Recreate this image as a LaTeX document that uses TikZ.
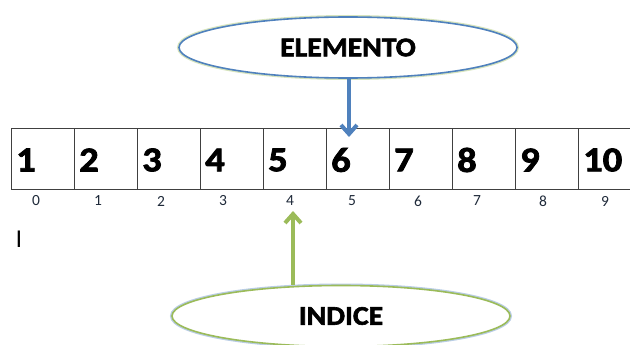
\documentclass[tikz,border=0pt]{standalone}
\usepackage{fontspec}
\setmainfont{Carlito}[BoldFeatures={FakeBold=2.2,FakeStretch=1.1}]
\newfontfamily\cursorfont{Liberation Sans}
\usetikzlibrary{shapes.geometric,arrows.meta}
\definecolor{accblue}{HTML}{4F81BD}
\definecolor{accgreen}{HTML}{9BBB59}
\definecolor{glowgreen}{HTML}{D7E4BD}
\definecolor{glowblue}{HTML}{B9CDE5}
\definecolor{idxcol}{HTML}{1F2A3A}
\tikzset{
  cellbox/.style={draw=black!75, line width=0.8pt, minimum width=63pt, minimum height=61pt, inner sep=0pt, outer sep=0pt},
  cellnum/.style={font=\bfseries\fontsize{35}{35}\selectfont, anchor=west, inner sep=0pt},
  idx/.style={font=\fontsize{15.5}{15.5}\selectfont, text=idxcol, inner sep=0pt},
  bubble/.style={ellipse, fill=white, minimum width=338pt, minimum height=61pt, inner sep=0pt, line width=1.6pt,
    font=\bfseries\fontsize{27}{27}\selectfont},
  bigarrow/.style={line width=4pt, -{Straight Barb[length=9pt,width=16pt,line width=4pt]}},
}
\begin{document}
\begin{tikzpicture}[x=1pt,y=-1pt]
\useasboundingbox (0,0) rectangle (630,345);
% array cells
\foreach \i [evaluate=\i as \xx using 11+63*\i] in {0,...,9} {
  \node[cellbox, anchor=north west] (c\i) at (\xx,128) {};
}
\foreach \i/\v in {0/1,1/2,2/3,3/4,4/5,5/6,6/7,7/8,8/9,9/10} {
  \node[cellnum] (n\i) at ([xshift=5pt,yshift=-1.5pt]c\i.west) {\v};
}
% index labels
\foreach \i/\x in {0/36,1/98,2/161,3/223,4/290,5/352,6/418,7/477,8/543,9/605} {
  \node[idx] (i\i) at (\x,201) {\i};
}
% ellipses
\node[bubble, draw=glowgreen, line width=4pt] (elg) at (348,47.5) {};
\node[bubble, draw=accblue] (el) at (348,47.5) {ELEMENTO};
\node[bubble, draw=glowblue, line width=4pt] (ing) at (341,316) {};
\node[bubble, draw=accgreen] (in) at (341,316) {INDICE};
% arrows
\coordinate (etip) at (349,137);
\draw[bigarrow, accblue] (el.south -| etip) -- (etip);
\coordinate (itip) at (293,211);
\draw[bigarrow, accgreen] (in.north -| itip) -- (itip);
% cursor mark
\node[font=\cursorfont\fontsize{24}{24}\selectfont, inner sep=0pt] (cur) at (19,239) {I};
\end{tikzpicture}
\end{document}
